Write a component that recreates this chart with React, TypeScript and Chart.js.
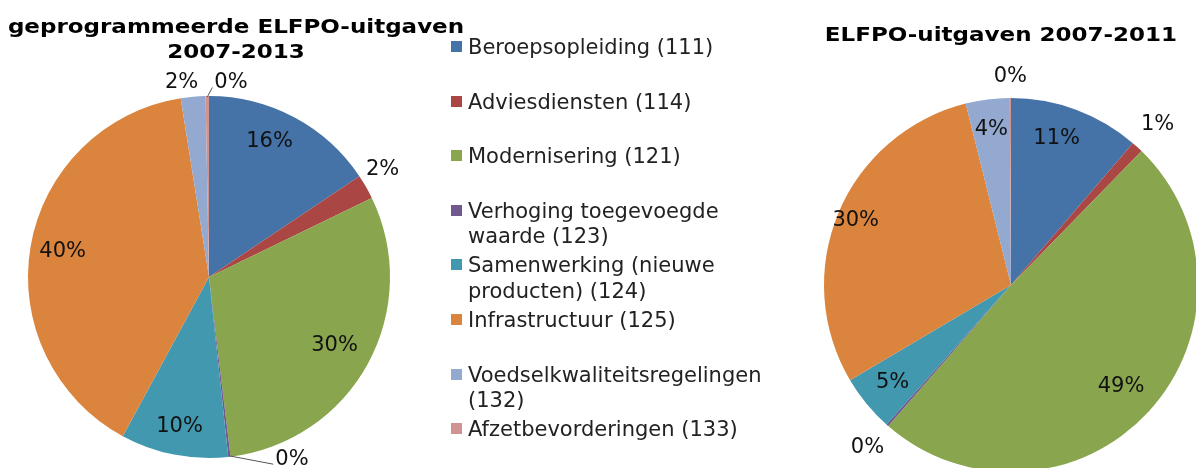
import React, { useEffect, useRef } from "react";
import { Chart, registerables } from "chart.js";

Chart.register(...registerables);

// ---- data ----
const categories = [
  "Beroepsopleiding (111)",
  "Adviesdiensten (114)",
  "Modernisering (121)",
  "Verhoging toegevoegde waarde (123)",
  "Samenwerking (nieuwe producten) (124)",
  "Infrastructuur (125)",
  "Voedselkwaliteitsregelingen (132)",
  "Afzetbevorderingen (133)",
];
const programmed20072013 = [15.6, 2.2, 30.3, 0.2, 9.6, 39.6, 2.2, 0.3];
const spent20072011 = [11.3, 1.0, 49.1, 0.2, 4.9, 29.6, 3.8, 0.1];
const titleLeft = ["geprogrammeerde ELFPO-uitgaven", "2007-2013"];
const titleRight = "ELFPO-uitgaven 2007-2011";

// ---- styles ----
const colors = ["#4572A7", "#AA4643", "#89A54E", "#71588F", "#4198AF", "#DB843D", "#93A9CF", "#D19392"];
const FONT = "'DejaVu Sans', Verdana, sans-serif";

type LabelCfg = { out?: boolean; shift?: number; r?: number; lead?: boolean };
const leftLabelCfg: LabelCfg[] = [
  { shift: -4 },
  { out: true, shift: -2 },
  { r: 0.79 },
  { out: true, shift: -18, lead: true },
  { r: 0.84 },
  {},
  { out: true, shift: -3 },
  { out: true, shift: 7, lead: true },
];
const rightLabelCfg: LabelCfg[] = [
  { shift: -3 },
  { out: true },
  { r: 0.8 },
  { out: true },
  {},
  { r: 0.9 },
  { r: 0.84 },
  { out: true },
];

function makeSliceLabels(cfgs: LabelCfg[], gap: number, inside: number) {
  return {
    id: "sliceLabels",
    afterDatasetsDraw(chart: any) {
      const ctx = chart.ctx as CanvasRenderingContext2D;
      const meta = chart.getDatasetMeta(0);
      const data = chart.data.datasets[0].data as number[];
      const total = data.reduce((a, b) => a + b, 0);
      ctx.save();
      ctx.font = `21px ${FONT}`;
      ctx.textAlign = "center";
      ctx.textBaseline = "middle";
      meta.data.forEach((arc: any, i: number) => {
        const p = arc.getProps(["x", "y", "startAngle", "endAngle", "outerRadius"], true);
        const cfg = cfgs[i] || {};
        const text = Math.round((data[i] / total) * 100) + "%";
        const m0 = (p.startAngle + p.endAngle) / 2;
        const mid = m0 + ((cfg.shift || 0) * Math.PI) / 180;
        const w = ctx.measureText(text).width;
        const h = 16;
        let r: number;
        if (cfg.out) {
          const proj = Math.abs(Math.cos(mid)) * (w / 2) + Math.abs(Math.sin(mid)) * (h / 2);
          r = p.outerRadius + gap + proj;
        } else {
          r = p.outerRadius * (cfg.r || inside);
        }
        const lx = p.x + Math.cos(mid) * r;
        const ly = p.y + Math.sin(mid) * r;
        ctx.fillStyle = "#111";
        ctx.fillText(text, lx, ly);
        if (cfg.lead) {
          ctx.beginPath();
          ctx.strokeStyle = "#555";
          ctx.lineWidth = 1;
          ctx.moveTo(p.x + Math.cos(m0) * (p.outerRadius - 1), p.y + Math.sin(m0) * (p.outerRadius - 1));
          ctx.lineTo(lx - w / 2 - 2, ly + 5);
          ctx.stroke();
        }
      });
      ctx.restore();
    },
  };
}

function PieCanvas(props: {
  values: number[];
  cfg: LabelCfg[];
  gap: number;
  inside: number;
  left: number;
  width: number;
  height: number;
  padding: { left: number; top: number; right: number; bottom: number };
}) {
  const ref = useRef<HTMLCanvasElement | null>(null);
  useEffect(() => {
    if (!ref.current) return;
    const chart = new Chart(ref.current, {
      type: "pie",
      data: {
        labels: categories,
        datasets: [
          {
            data: props.values,
            backgroundColor: colors,
            borderWidth: 0,
            hoverOffset: 0,
          },
        ],
      },
      options: {
        animation: false,
        responsive: false,
        devicePixelRatio: 1,
        layout: { padding: props.padding },
        plugins: {
          legend: { display: false },
          tooltip: { enabled: false },
          title: { display: false },
        },
      },
      plugins: [makeSliceLabels(props.cfg, props.gap, props.inside)],
    });
    return () => chart.destroy();
  }, []);
  return (
    <canvas
      ref={ref}
      width={props.width}
      height={props.height}
      style={{ position: "absolute", left: props.left, top: 0, width: props.width, height: props.height }}
    />
  );
}

export default function App() {
  const titleStyle: React.CSSProperties = {
    position: "absolute",
    fontFamily: FONT,
    fontWeight: "bold",
    fontSize: 20,
    lineHeight: "25px",
    color: "#000",
    textAlign: "center",
    whiteSpace: "nowrap",
    transform: "scaleX(1.15)",
    transformOrigin: "center",
  };
  return (
    <div
      style={{
        position: "absolute",
        left: 0,
        top: 0,
        width: 1196,
        height: 468,
        overflow: "hidden",
        background: "#fff",
      }}
    >
      <PieCanvas
        values={programmed20072013}
        cfg={leftLabelCfg}
        gap={5}
        inside={0.82}
        left={0}
        width={440}
        height={468}
        padding={{ left: 28, top: 96, right: 50, bottom: 10 }}
      />
      <PieCanvas
        values={spent20072011}
        cfg={rightLabelCfg}
        gap={13}
        inside={0.82}
        left={800}
        width={420}
        height={480}
        padding={{ left: 24, top: 98, right: 22, bottom: 8 }}
      />
      <div style={{ ...titleStyle, left: 0, width: 472, top: 14 }}>
        {titleLeft[0]}
        <br />
        {titleLeft[1]}
      </div>
      <div style={{ ...titleStyle, left: 801, width: 400, top: 22 }}>{titleRight}</div>
      <div style={{ position: "absolute", left: 451, top: 35, width: 340 }}>
        {categories.map((c, i) => (
          <div key={c} style={{ position: "relative", height: 54.6 }}>
            <div
              style={{
                position: "absolute",
                left: 0,
                top: 6,
                width: 11,
                height: 11,
                background: colors[i],
              }}
            />
            <div
              style={{
                position: "absolute",
                left: 17,
                top: 0,
                width: 320,
                fontFamily: FONT,
                fontSize: 21,
                lineHeight: "25.5px",
                color: "#222",
              }}
            >
              {c}
            </div>
          </div>
        ))}
      </div>
    </div>
  );
}
